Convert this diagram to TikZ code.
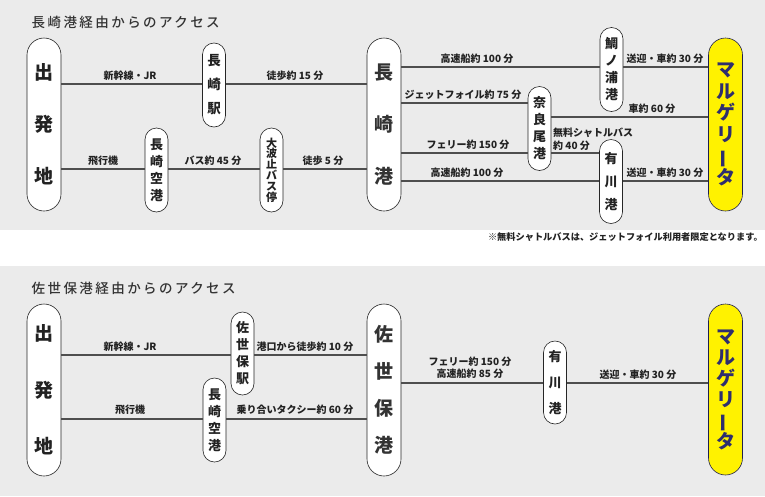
\documentclass[tikz,border=0pt]{standalone}
\usepackage{fontspec}
\setmainfont{Noto Sans CJK JP}
\newfontfamily\ttlfont{Noto Sans CJK JP}[UprightFont={* Medium}]
\usepackage{graphicx}
\definecolor{bg}{HTML}{EBEBEB}
\definecolor{ln}{HTML}{4E4E4E}
\definecolor{tx}{HTML}{222222}
\definecolor{navy}{HTML}{2E2E6E}
\definecolor{yel}{HTML}{FFF200}
\newcommand{\fs}[2]{\fontsize{#1}{#2}\selectfont}
\begin{document}
\begin{tikzpicture}[x=1pt,y=-1pt,
  pill/.style={draw=black!85, fill=white, line width=0.6pt, inner sep=0pt, align=center, text=tx,
    execute at begin node={\lineskiplimit=-30pt}},
  big/.style={pill, minimum width=34pt, minimum height=173pt, rounded corners=17pt},
  small/.style={pill, minimum width=23pt, minimum height=84pt, rounded corners=11.5pt},
  goal/.style={big, fill=yel, draw=navy!70!black, text=navy},
  route/.style={draw=ln, line width=2.6pt},
  lab/.style={font=\bfseries\fs{10}{13}, text=tx, inner sep=0pt, align=center},
  lableft/.style={lab, align=left, anchor=west},
  ttl/.style={anchor=west, inner sep=0pt, text=black!80, font=\ttlfont\fs{13.5}{16}\addfontfeature{LetterSpace=18}},
]
\useasboundingbox (0,0) rectangle (765,496);
\fill[bg] (0,0) rectangle (765,230);
\fill[bg] (0,266) rectangle (765,496);

% ---------- top panel ----------
\node[ttl] (t1) at (31.5,22) {長崎港経由からのアクセス};

\node[big, font=\bfseries\fs{19}{52}] (s1) at (44,124.5) {出\\発\\地};
\node[small, font=\bfseries\fs{13.5}{24}] (eki) at (214,85) {長\\崎\\駅};
\node[small, font=\bfseries\fs{13}{17}] (kuko) at (156.5,170) {長\\崎\\空\\港};
\node[small, font=\bfseries\fs{11}{10.8}] (ohato) at (271.5,170) {大\\波\\止\\バ\\ス\\停};
\node[big, font=\bfseries\fs{19}{52}, text=black!80] (nport) at (384,124.5) {長\\崎\\港};
\node[small, font=\bfseries\fs{13}{17}] (tai) at (611.5,69.5) {鯛\\ノ\\浦\\港};
\node[small, font=\bfseries\fs{13}{17}] (nara) at (539.5,128.5) {奈\\良\\尾\\港};
\node[small, font=\bfseries\fs{13}{23}] (ari) at (611,181.5) {有\\川\\港};
\node[goal, font=\bfseries\fs{19}{21.6}] (marg) at (725.5,124.5) {マ\\ル\\ゲ\\リ\\\rotatebox[origin=c]{90}{ー}\\タ};

\coordinate (ya) at (0,84);
\coordinate (yb) at (0,169);
\coordinate (yc) at (0,67);
\coordinate (yd) at (0,103);
\coordinate (ye) at (0,117);
\coordinate (yf) at (0,153);
\coordinate (yg) at (0,181);

\draw[route] (s1.east |- ya) -- (eki.west |- ya);
\draw[route] (eki.east |- ya) -- (nport.west |- ya);
\draw[route] (s1.east |- yb) -- (kuko.west |- yb);
\draw[route] (kuko.east |- yb) -- (ohato.west |- yb);
\draw[route] (ohato.east |- yb) -- (nport.west |- yb);
\draw[route] (nport.east |- yc) -- (tai.west |- yc);
\draw[route] (tai.east |- yc) -- (marg.west |- yc);
\draw[route] (nport.east |- yd) -- (nara.west |- yd);
\draw[route] (nara.east |- ye) -- (marg.west |- ye);
\draw[route] (nport.east |- yf) -- (nara.west |- yf);
\draw[route] (nara.east |- yf) -- (ari.west |- yf);
\draw[route] (nport.east |- yg) -- (ari.west |- yg);
\draw[route] (ari.east |- yg) -- (marg.west |- yg);

\node[lab] (l1) at (130,76) {新幹線・JR};
\node[lab] (l2) at (295,76) {徒歩約 15 分};
\node[lab] (l3) at (103,161) {飛行機};
\node[lab] (l4) at (213,161) {バス約 45 分};
\node[lab] (l5) at (323,161) {徒歩 5 分};
\node[lab] (l6) at (477,59) {高速船約 100 分};
\node[lab] (l7) at (665,59) {送迎・車約 30 分};
\node[lab] (l8) at (463,95) {ジェットフォイル約 75 分};
\node[lab] (l9) at (652,109) {車約 60 分};
\node[lab] (l10) at (468,145) {フェリー約 150 分};
\node[lableft] (l11) at (553,139.5) {無料シャトルバス\\約 40 分};
\node[lab] (l12) at (467,173) {高速船約 100 分};
\node[lab] (l13) at (665,173) {送迎・車約 30 分};

\node[anchor=east, inner sep=0pt, text=tx, font=\bfseries\fs{9.2}{11}] (note) at (763,237) {※無料シャトルバスは、ジェットフォイル利用者限定となります。};

% ---------- bottom panel ----------
\node[ttl] (t2) at (31.5,288) {佐世保港経由からのアクセス};

\node[big, font=\bfseries\fs{19}{56.5}, minimum height=172pt] (s2) at (44,390) {出\\発\\地};
\node[small, font=\bfseries\fs{13}{17}, minimum height=83pt] (seki) at (242.5,353.5) {佐\\世\\保\\駅};
\node[small, font=\bfseries\fs{13}{17}] (kuko2) at (214.5,420) {長\\崎\\空\\港};
\node[big, font=\bfseries\fs{19}{37}, minimum height=172pt, text=black!80] (sport) at (384,390) {佐\\世\\保\\港};
\node[small, font=\bfseries\fs{13}{26}, minimum height=83pt] (ari2) at (555,382.5) {有\\川\\港};
\node[goal, font=\bfseries\fs{19}{21}, minimum height=171pt] (marg2) at (725.5,389.5) {マ\\ル\\ゲ\\リ\\\rotatebox[origin=c]{90}{ー}\\タ};

\coordinate (yh) at (0,355);
\coordinate (yi) at (0,419);
\coordinate (yj) at (0,383);

\draw[route] (s2.east |- yh) -- (seki.west |- yh);
\draw[route] (seki.east |- yh) -- (sport.west |- yh);
\draw[route] (s2.east |- yi) -- (kuko2.west |- yi);
\draw[route] (kuko2.east |- yi) -- (sport.west |- yi);
\draw[route] (sport.east |- yj) -- (ari2.west |- yj);
\draw[route] (ari2.east |- yj) -- (marg2.west |- yj);

\node[lab] (m1) at (130,347) {新幹線・JR};
\node[lab] (m2) at (305,347) {港口から徒歩約 10 分};
\node[lab] (m3) at (130,410) {飛行機};
\node[lab] (m4) at (295,410) {乗り合いタクシー約 60 分};
\node[lab, font=\bfseries\fs{10}{12}] (m5) at (470,368) {フェリー約 150 分\\高速船約 85 分};
\node[lab] (m6) at (638,375) {送迎・車約 30 分};
\end{tikzpicture}
\end{document}
